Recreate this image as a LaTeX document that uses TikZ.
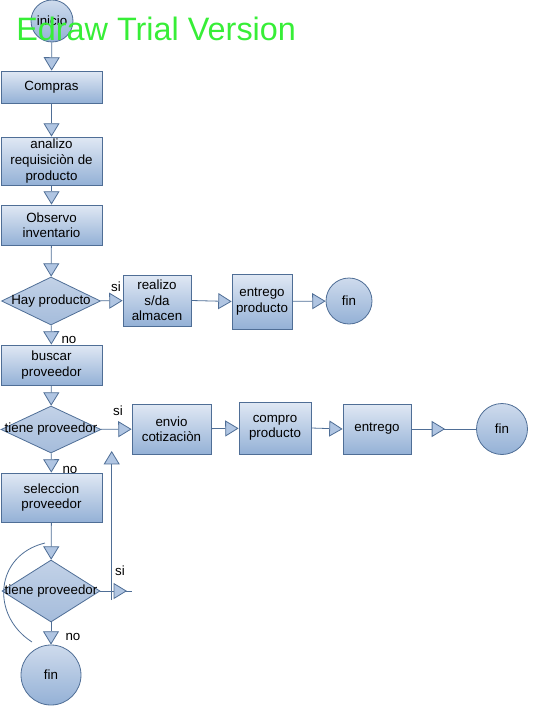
\documentclass[tikz,border=0pt]{standalone}
\usepackage{fontspec}
\setmainfont{Liberation Sans}
\usetikzlibrary{arrows.meta,shapes.geometric,decorations.markings}

\definecolor{edge}{RGB}{79,110,150}
\definecolor{boxtop}{RGB}{224,232,244}
\definecolor{boxbot}{RGB}{148,177,214}
\definecolor{decfill}{RGB}{165,188,219}
\definecolor{tri}{RGB}{176,197,226}
\definecolor{trial}{RGB}{55,238,55}

\tikzset{
    box/.style={draw=edge, line width=0.6pt, top color=boxtop, bottom color=boxbot,
        align=center, inner sep=1pt, minimum width=75.75pt},
    dec/.style={diamond, draw=edge, line width=0.6pt, top color=boxtop!50!decfill,
        bottom color=decfill, inner sep=0pt},
    term/.style={circle, draw=edge, line width=0.6pt, top color=boxtop!70!decfill,
        bottom color=boxbot, inner sep=0pt},
    tip/.tip={Triangle[length=10pt,width=12pt,fill=tri,line width=0.6pt]},
    flow/.style={draw=edge, line width=0.6pt, -tip},
    midflow/.style={draw=edge, line width=0.6pt, postaction={decorate},
        decoration={markings, mark=at position #1 with {\arrow{tip}}}},
    every node/.style={font=\fontsize{10}{11.5}\selectfont}
}

\begin{document}
\begin{tikzpicture}[x=0.75pt,y=-0.75pt]
    \useasboundingbox (0,0) rectangle (541,721);

    % main column
    \node[term, minimum size=31.5pt] (inicio) at (52,21) {inicio};
    \node[box, minimum height=24pt] (compras) at (51.5,87) {Compras};
    \node[box, minimum height=36pt, font=\fontsize{10}{12}\selectfont] (analizo) at (51.5,161)
        {analizo\\requisiciòn de\\producto};
    \node[box, minimum height=30pt] (observo) at (51.5,225) {Observo\\inventario};
    \node[dec, minimum width=74.25pt, minimum height=36pt, label=center:{Hay producto}] (hay) at (51,301) {};
    \node[box, minimum height=30pt] (buscar) at (51.5,365) {buscar\\proveedor};
    \node[dec, minimum width=75pt, minimum height=35.25pt, label=center:{tiene proveedor}] (tiene1) at (51,429.5) {};
    \node[box, minimum height=36.75pt] (seleccion) at (51.5,497.5) {seleccion\\proveedor};
    \node[dec, minimum width=73.5pt, minimum height=46.5pt, label=center:{tiene proveedor}] (tiene2) at (51,591) {};
    \node[term, minimum size=45pt] (fin3) at (51,675) {fin};

    % first branch
    \node[box, minimum width=51pt, minimum height=38.25pt] (realizo) at (157,300.5) {realizo\\s/da\\almacen};
    \node[box, minimum width=45pt, minimum height=41.25pt] (entrega) at (262,301.5) {entrego\\producto};
    \node[term, minimum size=34.5pt] (fin1) at (349,301) {fin};

    % second branch
    \node[box, minimum width=59.25pt, minimum height=37.5pt] (envio) at (171.5,429) {envio\\cotizaciòn};
    \node[box, minimum width=54pt, minimum height=39pt] (compro) at (275,428) {compro\\producto};
    \node[box, minimum width=51pt, minimum height=37.5pt] (entrego) at (377,429) {entrego};
    \node[term, minimum size=38.25pt] (fin2) at (502,429) {fin};

    \coordinate (sicut) at (132,591);
    \coordinate (upfoot) at (111.7,600);
    \coordinate (uphead) at (111.7,451);

    \begin{scope}[flow]
        \draw (inicio) -- (compras);
        \draw (compras) -- (analizo);
        \draw (analizo) -- (observo);
        \draw (observo) -- (hay);
        \draw (hay) -- (realizo);
        \draw (realizo.east) -- (entrega.west);
        \draw (entrega) -- (fin1);
        \draw (hay) -- (buscar);
        \draw (buscar) -- (tiene1);
        \draw (tiene1) -- (envio);
        \draw (envio) -- (compro);
        \draw (compro.east) -- (entrego.west);
        \draw (tiene1) -- (seleccion);
        \draw (seleccion) -- (tiene2);
        \draw (tiene2) -- (fin3);
        \draw (upfoot) -- (uphead);
    \end{scope}
    \draw[midflow=0.52] (entrego) -- (fin2);
    \draw[midflow=0.84] (tiene2.east) -- (sicut);
    \draw[draw=edge, line width=0.6pt] (32,642) .. controls (-10,615) and (-5,555) .. (45,543);

    \node (si1) at (116,287) {si};
    \node (no1) at (69,340) {no};
    \node (si2) at (118,411) {si};
    \node (no2) at (70,470) {no};
    \node (si3) at (120,571) {si};
    \node (no3) at (73,637) {no};

    \node[anchor=base west, inner sep=0pt, text=trial, font=\fontsize{24.3}{24.3}\selectfont] (trial) at (16,40)
        {Edraw Trial Version};
\end{tikzpicture}
\end{document}
